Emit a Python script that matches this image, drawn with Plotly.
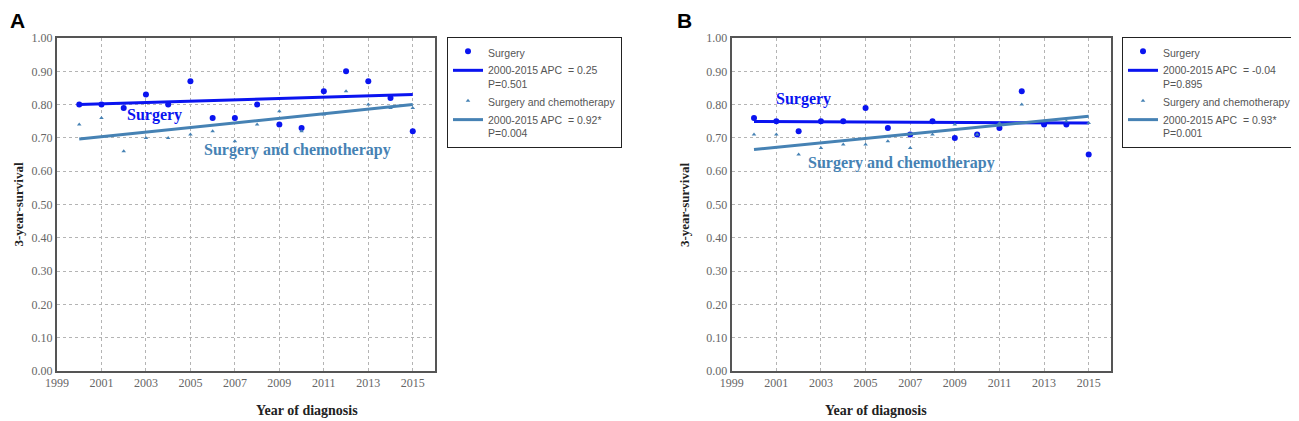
import plotly.graph_objects as go

# Data
years = list(range(2000, 2016))

# Panel A
a_surgery = [0.80, 0.80, 0.79, 0.83, 0.80, 0.87, 0.76, 0.76, 0.80, 0.74, 0.73, 0.84, 0.90, 0.87, 0.82, 0.72]
a_chemo = [0.74, 0.76, 0.66, 0.70, 0.70, 0.71, 0.72, 0.69, 0.74, 0.78, 0.72, 0.77, 0.84, 0.80, 0.79, 0.79]
a_fit_surgery = [0.800, 0.830]
a_fit_chemo = [0.697, 0.800]
a_apc = ["0.25", "0.92*"]
a_p = ["0.501", "0.004"]

# Panel B
b_surgery = [0.76, 0.75, 0.72, 0.75, 0.75, 0.79, 0.73, 0.71, 0.75, 0.70, 0.71, 0.73, 0.84, 0.74, 0.74, 0.65]
b_chemo = [0.71, 0.71, 0.65, 0.67, 0.68, 0.68, 0.69, 0.67, 0.71, 0.74, 0.71, 0.745, 0.80, 0.75, 0.75, 0.745]
b_fit_surgery = [0.749, 0.745]
b_fit_chemo = [0.665, 0.765]
b_apc = ["-0.04", "0.93*"]
b_p = ["0.895", "0.001"]

fit_years = [2000, 2015]

BLUE = "#0a14f0"
STEEL = "#4682b4"
SERIF = "Liberation Serif"
SANS = "Liberation Sans"

# the page body adds an 8px margin, so the figure is drawn 8px smaller
W, H = 1291, 413

fig = go.Figure()


def add_panel(fig, n, surg, chemo, fit_s, fit_c, apc, pvals):
    xa = "x" if n == 1 else "x2"
    ya = "y" if n == 1 else "y2"
    lg = "legend" if n == 1 else "legend2"
    fig.add_trace(go.Scatter(x=years, y=surg, mode="markers", name="Surgery",
                             marker=dict(color=BLUE, size=6), xaxis=xa, yaxis=ya, legend=lg))
    fig.add_trace(go.Scatter(x=fit_years, y=fit_s, mode="lines",
                             name=f"2000-2015 APC\u00a0 = {apc[0]}<br>P={pvals[0]}",
                             line=dict(color=BLUE, width=3), xaxis=xa, yaxis=ya, legend=lg))
    fig.add_trace(go.Scatter(x=years, y=chemo, mode="markers", name="Surgery and chemotherapy",
                             marker=dict(color=STEEL, size=4, symbol="triangle-up"),
                             xaxis=xa, yaxis=ya, legend=lg))
    fig.add_trace(go.Scatter(x=fit_years, y=fit_c, mode="lines",
                             name=f"2000-2015 APC\u00a0 = {apc[1]}<br>P={pvals[1]}",
                             line=dict(color=STEEL, width=3), xaxis=xa, yaxis=ya, legend=lg))


add_panel(fig, 1, a_surgery, a_chemo, a_fit_surgery, a_fit_chemo, a_apc, a_p)
add_panel(fig, 2, b_surgery, b_chemo, b_fit_surgery, b_fit_chemo, b_apc, b_p)

xcommon = dict(range=[1999, 2016], tickvals=list(range(1999, 2016, 2)), showgrid=True,
               gridcolor="#b4b4b4", griddash="dot", gridwidth=1, showline=True,
               linecolor="#555555", linewidth=2, mirror=True, zeroline=False,
               tickfont=dict(family=SERIF, size=12, color="#666666"), ticks="",
               automargin=False)
ycommon = dict(range=[0, 1], tickvals=[i / 10 for i in range(11)], tickformat=".2f",
               showgrid=True, gridcolor="#b4b4b4", griddash="dot", gridwidth=1,
               showline=True, linecolor="#555555", linewidth=2, mirror=True, zeroline=False,
               tickfont=dict(family=SERIF, size=12, color="#666666"), ticks="",
               automargin=False)

legcommon = dict(bgcolor="white", bordercolor="#222222", borderwidth=1,
                 font=dict(family=SANS, size=10.5, color="#555555"),
                 yanchor="top", xanchor="left", valign="top", tracegroupgap=0)

ydom = [1 - 363 / H, 1 - 30 / H]

fig.update_layout(
    width=W, height=H,
    margin=dict(l=0, r=0, t=0, b=0, autoexpand=False),
    plot_bgcolor="white", paper_bgcolor="white",
    xaxis=dict(domain=[49 / W, 427 / W], anchor="y", **xcommon),
    yaxis=dict(domain=ydom, anchor="x", **ycommon),
    xaxis2=dict(domain=[723.7 / W, 1103 / W], anchor="y2", **xcommon),
    yaxis2=dict(domain=ydom, anchor="x2", **ycommon),
    legend=dict(x=439 / W, y=1 - 29 / H, **legcommon),
    legend2=dict(x=1114 / W, y=1 - 29 / H, **legcommon),
)

annots = [
    # panel labels
    dict(text="<b>A</b>", x=0, y=1 - 13 / H, xref="paper", yref="paper", xanchor="left",
         yanchor="middle", showarrow=False, font=dict(family=SANS, size=21, color="black")),
    dict(text="<b>B</b>", x=667 / W, y=1 - 13 / H, xref="paper", yref="paper", xanchor="left",
         yanchor="middle", showarrow=False, font=dict(family=SANS, size=21, color="black")),
    # in-plot labels
    dict(text="<b>Surgery</b>", x=2003.4, y=0.768, xref="x", yref="y", showarrow=False,
         font=dict(family=SERIF, size=16, color=BLUE)),
    dict(text="<b>Surgery and chemotherapy</b>", x=2009.8, y=0.665, xref="x", yref="y",
         showarrow=False, font=dict(family=SERIF, size=16, color=STEEL)),
    dict(text="<b>Surgery</b>", x=2002.2, y=0.818, xref="x2", yref="y2", showarrow=False,
         font=dict(family=SERIF, size=16, color=BLUE)),
    dict(text="<b>Surgery and chemotherapy</b>", x=2006.6, y=0.626, xref="x2", yref="y2",
         showarrow=False, font=dict(family=SERIF, size=16, color=STEEL)),
]

for xc, yx, anc in [(245.6 / W, 0, "left"), (921.5 / W, 676 / W, "center")]:
    annots.append(dict(text="<b>Year of diagnosis</b>", x=xc, y=1 - 402 / H, xref="paper",
                       yref="paper", showarrow=False, yanchor="middle",
                       font=dict(family=SERIF, size=14, color="#222222")))
    annots.append(dict(text="<b>3-year-survival</b>", x=yx, y=1 - 197 / H, xref="paper",
                       yref="paper", showarrow=False, textangle=-90, xanchor=anc,
                       font=dict(family=SERIF, size=13, color="#222222")))

fig.update_layout(annotations=annots)

fig.write_html("out.html")
